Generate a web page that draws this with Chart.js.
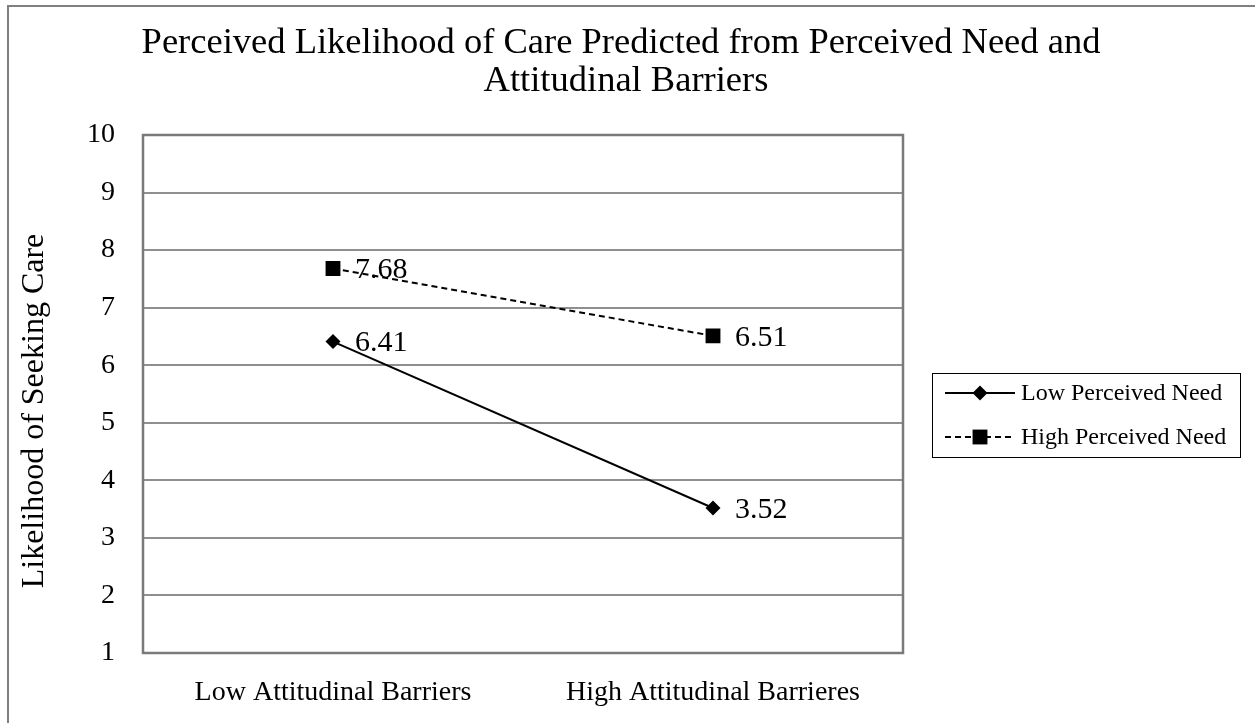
<!DOCTYPE html>
<html>
<head>
<meta charset="utf-8">
<script src="https://cdn.jsdelivr.net/npm/chart.js@4.4.1/dist/chart.umd.min.js"></script>
<style>
  html, body { margin: 0; padding: 0; background: #fff; }
  #wrap { width: 1255px; height: 723px; }
</style>
</head>
<body>
<div id="wrap"><canvas id="chart" width="1255" height="723"></canvas></div>
<script>
// data
const categories = ['Low Attitudinal Barriers', 'High Attitudinal Barrieres'];
const lowNeed = [6.41, 3.52];
const highNeed = [7.68, 6.51];
const seriesNames = ['Low Perceived Need', 'High Perceived Need'];
const yTicks = [1, 2, 3, 4, 5, 6, 7, 8, 9, 10];
const titleLines = ['Perceived Likelihood of Care Predicted from Perceived Need and', 'Attitudinal Barriers'];
const yTitle = 'Likelihood of Seeking Care';

const serif = "'Liberation Serif', 'Times New Roman', serif";

// outer frame, plot frame, the two-line title and the y title
// (Excel puts these a bit off the plot centre, so they are drawn here)
const framePlugin = {
    id: 'frames',
    afterDraw(chart) {
        const { ctx, chartArea: a } = chart;
        ctx.save();
        ctx.strokeStyle = '#808080';
        ctx.lineWidth = 2;
        ctx.strokeRect(8, 6, 1300, 800);
        ctx.lineWidth = 2.5;
        ctx.strokeStyle = '#7a7a7a';
        ctx.strokeRect(a.left, a.top, a.right - a.left, a.bottom - a.top);

        ctx.fillStyle = '#000';
        ctx.font = `36.5px ${serif}`;
        ctx.textAlign = 'center';
        ctx.textBaseline = 'alphabetic';
        ctx.fillText(titleLines[0], 621, 53);
        ctx.fillText(titleLines[1], 626, 91);

        ctx.translate(35, 411);
        ctx.rotate(-Math.PI / 2);
        ctx.font = `32px ${serif}`;
        ctx.textBaseline = 'middle';
        ctx.fillText(yTitle, 0, 0);
        ctx.restore();
    }
};

// value labels next to each point
const valueLabels = {
    id: 'valueLabels',
    afterDatasetsDraw(chart) {
        const { ctx } = chart;
        ctx.save();
        ctx.font = `30px ${serif}`;
        ctx.fillStyle = '#000';
        ctx.textAlign = 'left';
        ctx.textBaseline = 'middle';
        chart.data.datasets.forEach((ds, i) => {
            chart.getDatasetMeta(i).data.forEach((pt, j) => {
                ctx.fillText(ds.data[j].toFixed(2), pt.x + 22, pt.y + 2);
            });
        });
        ctx.restore();
    }
};

// boxed legend on the right, like the Excel one
const boxLegend = {
    id: 'boxLegend',
    afterDraw(chart) {
        const { ctx } = chart;
        const x0 = 932, y0 = 373, w = 308, h = 84;
        ctx.save();
        ctx.strokeStyle = '#000';
        ctx.lineWidth = 1;
        ctx.strokeRect(x0 + 0.5, y0 + 0.5, w, h);
        chart.data.datasets.forEach((ds, i) => {
            const y = y0 + 20 + i * 44;
            ctx.strokeStyle = '#000';
            ctx.lineWidth = 2;
            ctx.setLineDash(ds.borderDash || []);
            ctx.beginPath();
            ctx.moveTo(945, y);
            ctx.lineTo(1015, y);
            ctx.stroke();
            ctx.setLineDash([]);
            ctx.fillStyle = '#000';
            Chart.helpers.drawPoint(ctx, {
                pointStyle: ds.pointStyle, radius: ds.pointRadius, borderWidth: 0
            }, 980, y);
            ctx.font = `24px ${serif}`;
            ctx.textAlign = 'left';
            ctx.textBaseline = 'middle';
            ctx.fillText(ds.label, 1021, y + 1);
        });
        ctx.restore();
    }
};

new Chart(document.getElementById('chart'), {
    type: 'line',
    data: {
        labels: categories,
        datasets: [
            {
                label: seriesNames[0],
                data: lowNeed,
                borderColor: '#000',
                backgroundColor: '#000',
                borderWidth: 2,
                pointStyle: 'rectRot',
                pointRadius: 7.5,
                pointBorderWidth: 0,
                tension: 0
            },
            {
                label: seriesNames[1],
                data: highNeed,
                borderColor: '#000',
                backgroundColor: '#000',
                borderWidth: 2,
                borderDash: [6, 4],
                pointStyle: 'rect',
                pointRadius: 10.5,
                pointBorderWidth: 0,
                tension: 0
            }
        ]
    },
    options: {
        responsive: false,
        animation: false,
        layout: { padding: { left: 0, right: 352, top: 135, bottom: 0 } },
        plugins: {
            legend: { display: false },
            tooltip: { enabled: false },
            title: { display: false }
        },
        scales: {
            x: {
                offset: true,
                grid: { display: false, drawTicks: false },
                border: { display: false },
                ticks: { color: '#000', font: { family: serif, size: 28 }, padding: 23 },
                afterFit: (s) => { s.height = 70; }
            },
            y: {
                min: 1,
                max: 10,
                afterBuildTicks: (s) => { s.ticks = yTicks.map(v => ({ value: v })); },
                grid: { color: '#8f8f8f', lineWidth: 2, drawTicks: false },
                border: { display: false },
                ticks: { color: '#000', font: { family: serif, size: 28 }, padding: 28 },
                afterFit: (s) => { s.width = 143; }
            }
        }
    },
    plugins: [framePlugin, valueLabels, boxLegend]
});
</script>
</body>
</html>
